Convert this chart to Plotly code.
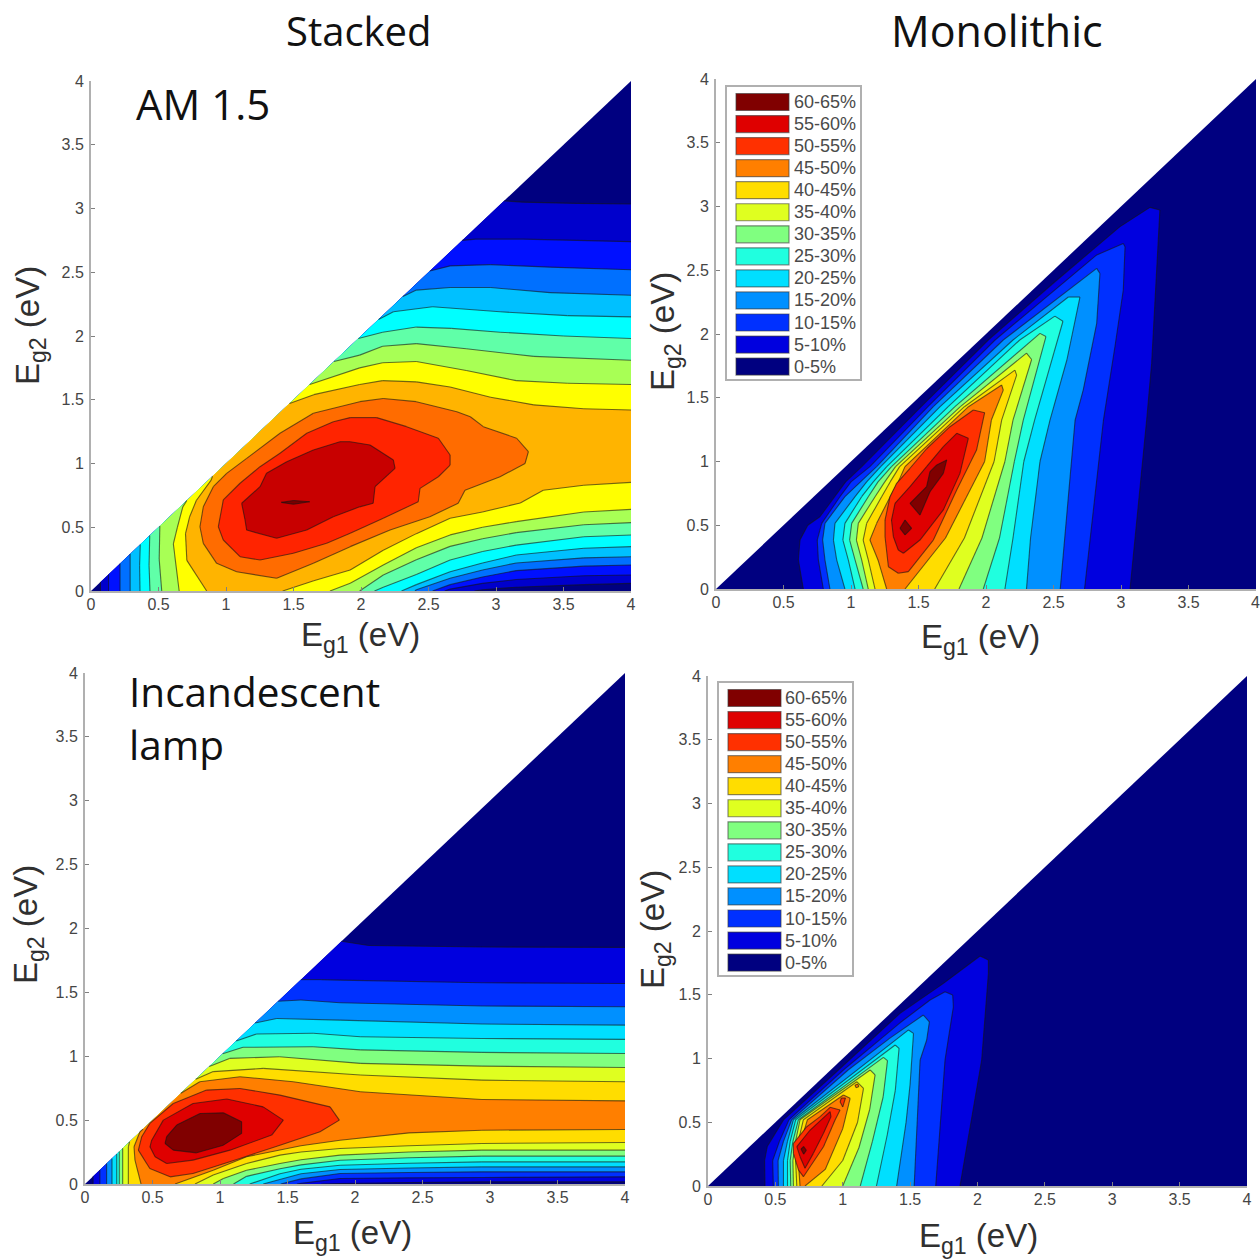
import plotly.graph_objects as go

W, H = 1260, 1259

LEVEL_LABELS = ["60-65%", "55-60%", "50-55%", "45-50%", "40-45%", "35-40%", "30-35%",
                "25-30%", "20-25%", "15-20%", "10-15%", "5-10%", "0-5%"]
LEGEND_COLORS = ["#800000", "#DF0000", "#FF3000", "#FF7F00", "#FFDD00", "#DFFF20", "#80FF80",
                 "#20FFDF", "#00DFFF", "#0090FF", "#0030FF", "#0000DF", "#000080"]
AM15_COLORS = ["#780000", "#C80000", "#FF2400", "#FF6C00", "#FFB400", "#FFFF00", "#A8FF55",
               "#60FFA8", "#00FFFF", "#00C0FF", "#0070FF", "#0010FF", "#0000CC", "#000080"]
TICKS = [0, 0.5, 1, 1.5, 2, 2.5, 3, 3.5, 4]
TICK_TEXT = ["0", "0.5", "1", "1.5", "2", "2.5", "3", "3.5", "4"]
TRIANGLE = [(0, 0), (4, 0), (4, 4)]

# Stacked, AM 1.5: contour regions in eV (Eg1, Eg2), lowest level first
A05 = [(.07,0),(.07,.07),(3.06,3.06),(3.2,3.05),(3.6,3.04),(4,3.035),(4,.06),(3.65,.05),(3.15,.03),(2.9,.01),(2.84,0)]
A10 = [(.13,0),(.13,.13),(2.75,2.75),(2.85,2.76),(3.2,2.76),(4,2.74),(4,.125),(3.65,.12),(3.15,.09),(2.9,.06),(2.66,.015),(2.62,0)]
A15 = [(.215,0),(.215,.215),(2.51,2.51),(2.66,2.55),(2.96,2.56),(3.4,2.54),(4,2.52),(4,.204),(3.65,.195),(3.15,.16),(2.9,.11),(2.66,.05),(2.53,0)]
A20 = [(.29,0),(.29,.29),(2.31,2.31),(2.41,2.36),(2.66,2.38),(2.96,2.38),(3.4,2.34),(4,2.32),(4,.269),(3.65,.26),(3.15,.22),(2.9,.165),(2.66,.10),(2.41,.01),(2.40,0)]
A25 = [(.363,0),(.36,.2),(.365,.365),(2.13,2.13),(2.24,2.19),(2.53,2.23),(3.03,2.19),(3.53,2.16),(4,2.15),(4,.348),(3.65,.335),(3.15,.282),(2.9,.22),(2.66,.151),(2.41,.05),(2.3,0)]
A30 = [(.437,0),(.43,.2),(.435,.435),(1.98,1.98),(2.16,2.03),(2.41,2.07),(2.67,2.06),(3.03,2.03),(3.5,2.0),(4,1.98),(4,.439),(3.65,.425),(3.15,.36),(2.9,.31),(2.66,.243),(2.41,.13),(2.165,.03),(2.1,0)]
A35 = [(.524,0),(.505,.25),(.51,.51),(1.8,1.8),(1.99,1.85),(2.16,1.92),(2.41,1.94),(2.78,1.9),(3.28,1.84),(4,1.81),(4,.536),(3.65,.52),(3.15,.458),(2.9,.41),(2.66,.35),(2.41,.245),(2.165,.125),(1.99,0)]
A40 = [(.653,0),(.61,.37),(.64,.5),(.68,.66),(.71,.71),(1.62,1.62),(1.99,1.75),(2.16,1.79),(2.41,1.8),(2.78,1.73),(3.15,1.65),(3.53,1.63),(4,1.62),(4,.64),(3.65,.62),(3.15,.544),(2.9,.50),(2.66,.44),(2.41,.34),(2.165,.204),(1.92,.06),(1.77,0)]
A45 = [(.857,0),(.71,.24),(.70,.45),(.73,.58),(.78,.71),(.89,.87),(.9,.9),(1.47,1.47),(1.65,1.54),(1.99,1.62),(2.16,1.65),(2.41,1.64),(2.66,1.6),(2.96,1.52),(3.28,1.46),(3.65,1.43),(4,1.42),(4,.852),(3.65,.83),(3.35,.79),(3.18,.69),(2.9,.62),(2.66,.57),(2.41,.45),(2.165,.32),(1.92,.165),(1.65,.08),(1.42,0)]
A50 = [(1.99,1.485),(2.165,1.51),(2.41,1.485),(2.71,1.406),(2.81,1.367),(2.906,1.289),(3.153,1.198),(3.24,1.093),(3.215,1.0),(3.03,.896),(2.77,.79),(2.72,.688),(2.51,.583),(2.215,.478),(1.92,.348),(1.647,.217),(1.375,.10),(1.079,.151),(.931,.217),(.832,.374),(.807,.504),(.832,.661),(.906,.818),(1.005,.923),(1.153,1.04),(1.40,1.237),(1.647,1.394)]
A55 = [(1.795,1.328),(1.92,1.36),(2.116,1.36),(2.338,1.289),(2.573,1.198),(2.66,1.067),(2.66,.988),(2.573,.896),(2.437,.805),(2.424,.70),(2.165,.57),(1.92,.453),(1.746,.374),(1.499,.296),(1.252,.243),(1.104,.269),(.98,.40),(.943,.504),(.98,.714),(1.104,.845),(1.252,.975),(1.40,1.08),(1.598,1.237)]
A60 = [(1.844,1.171),(1.92,1.171),(2.067,1.145),(2.24,1.027),(2.252,.962),(2.104,.818),(2.09,.688),(1.99,.66),(1.795,.583),(1.598,.478),(1.375,.413),(1.153,.478),(1.141,.557),(1.116,.688),(1.252,.818),(1.30,.923),(1.45,1.014),(1.647,1.106)]
A65 = [(1.41,.695),(1.5,.71),(1.62,.70),(1.5,.68)]
STACKED_AM15 = [A05, A10, A15, A20, A25, A30, A35, A40, A45, A50, A55, A60, A65]

# Monolithic, AM 1.5
B05 = [(.647,0),(.61,.228),(.622,.384),(.68,.5),(.77,.567),(.96,.84),(1.08,.96),(1.52,1.43),(2.017,1.953),(2.5,2.4),(2.99,2.84),(3.214,2.993),(3.288,2.972),(3.227,1.77),(3.19,1.325),(3.067,0)]
B10 = [(.795,0),(.758,.228),(.75,.384),(.783,.515),(.918,.724),(1.0,.84),(1.14,.96),(1.57,1.43),(2.067,1.953),(2.82,2.62),(3.017,2.71),(3.03,2.685),(3.017,2.345),(2.955,1.90),(2.87,1.325),(2.73,0)]
B15 = [(.844,0),(.807,.228),(.79,.384),(.807,.515),(.955,.724),(1.07,.84),(1.19,.96),(1.61,1.43),(2.128,1.953),(2.82,2.515),(2.844,2.475),(2.82,2.083),(2.72,1.56),(2.66,1.325),(2.55,0)]
B20 = [(.955,0),(.894,.228),(.87,.384),(.881,.515),(1.03,.724),(1.116,.84),(1.22,.96),(1.66,1.43),(2.2,1.953),(2.61,2.29),(2.696,2.29),(2.6,1.8),(2.474,1.325),(2.4,1.0),(2.33,.4),(2.3,0)]
B25 = [(1.03,0),(.98,.228),(.94,.384),(.955,.515),(1.079,.724),(1.165,.84),(1.265,.96),(1.72,1.43),(2.25,1.953),(2.51,2.14),(2.57,2.10),(2.36,1.325),(2.28,1.0),(2.2,.4),(2.14,0)]
B30 = [(1.09,0),(1.03,.228),(.99,.384),(1.005,.515),(1.128,.724),(1.2,.84),(1.30,.96),(1.77,1.43),(2.40,2.005),(2.444,1.98),(2.276,1.325),(2.21,1.0),(2.10,.4),(1.98,0)]
B35 = [(1.128,0),(1.079,.228),(1.04,.384),(1.054,.515),(1.178,.724),(1.25,.84),(1.33,.96),(1.81,1.43),(2.30,1.85),(2.338,1.80),(2.2,1.325),(2.14,1.0),(1.97,.4),(1.80,0)]
B40 = [(1.178,0),(1.128,.228),(1.09,.384),(1.116,.515),(1.227,.724),(1.29,.84),(1.36,.96),(1.84,1.43),(2.214,1.717),(2.227,1.678),(2.116,1.325),(2.06,1.0),(1.84,.4),(1.62,0)]
B45 = [(1.264,0),(1.2,.228),(1.14,.384),(1.19,.515),(1.29,.724),(1.35,.84),(1.40,.96),(1.87,1.43),(2.116,1.60),(2.128,1.56),(2.04,1.325),(1.99,1.0),(1.70,.4),(1.40,0)]
B50 = [(1.906,1.404),(1.99,1.383),(1.93,1.09),(1.783,.777),(1.61,.384),(1.425,.136),(1.35,.123),(1.277,.175),(1.252,.41),(1.252,.541),(1.289,.724),(1.338,.829),(1.437,.947),(1.56,1.10),(1.733,1.273)]
B55 = [(1.783,1.221),(1.869,1.182),(1.807,.907),(1.684,.62),(1.511,.384),(1.388,.28),(1.35,.306),(1.314,.41),(1.30,.541),(1.326,.672),(1.437,.803),(1.56,.96),(1.684,1.116)]
B60 = [(1.709,1.012),(1.684,.907),(1.585,.763),(1.511,.58),(1.437,.672),(1.56,.803),(1.585,.92),(1.635,.973)]
B60b = [(1.4,.541),(1.449,.476),(1.4,.424),(1.363,.476)]
MONO_AM15 = [B05, B10, B15, B20, B25, B30, B35, B40, B45, B50, B55, B60, B60b]

# Stacked, incandescent lamp
C05 = [(.06,0),(.06,.06),(1.9,1.9),(2.1,1.867),(2.94,1.855),(4,1.852),(4,.017),(2.94,.017),(2.4,.012),(1.889,.004),(1.75,0)]
C10 = [(.11,0),(.11,.11),(1.6,1.6),(1.75,1.6),(1.889,1.596),(2.94,1.575),(4,1.57),(4,.056),(2.94,.051),(2.4,.048),(1.889,.043),(1.6,.005),(1.57,0)]
C15 = [(.16,0),(.16,.16),(1.43,1.43),(1.6,1.44),(1.889,1.419),(2.94,1.393),(4,1.388),(4,.095),(2.94,.095),(2.4,.09),(1.889,.082),(1.6,.04),(1.45,0)]
C20 = [(.2,0),(.2,.2),(1.26,1.26),(1.42,1.296),(1.889,1.283),(2.94,1.252),(4,1.244),(4,.134),(2.94,.134),(2.4,.125),(1.889,.113),(1.6,.08),(1.32,0)]
C25 = [(.235,0),(.235,.235),(1.12,1.12),(1.27,1.174),(1.69,1.18),(2.04,1.153),(2.94,1.139),(4,1.132),(4,.173),(2.94,.173),(2.4,.163),(1.889,.147),(1.6,.115),(1.444,.08),(1.22,0)]
C30 = [(.254,0),(.254,.254),(1.02,1.02),(1.17,1.07),(1.69,1.074),(2.04,1.05),(2.94,1.03),(4,1.022),(4,.218),(2.94,.218),(2.4,.205),(1.889,.186),(1.6,.15),(1.444,.12),(1.197,.06),(1.10,0)]
C35 = [(.279,0),(.279,.279),(.92,.92),(1.07,.983),(1.44,.996),(2.04,.944),(2.94,.923),(4,.912),(4,.265),(2.94,.265),(2.4,.25),(1.889,.226),(1.6,.19),(1.444,.16),(1.197,.108),(1.025,.043),(.95,0)]
C40 = [(.321,0),(.321,.29),(.33,.33),(.82,.82),(.95,.88),(1.32,.905),(2.04,.853),(2.94,.813),(4,.80),(4,.325),(2.94,.317),(2.4,.30),(1.889,.278),(1.6,.25),(1.444,.226),(1.197,.16),(.95,.07),(.815,0)]
C45 = [(.415,0),(.37,.187),(.363,.291),(.407,.409),(.43,.43),(.71,.71),(.85,.80),(1.148,.84),(1.543,.80),(2.04,.722),(2.94,.662),(4,.651),(4,.427),(2.94,.421),(2.4,.40),(1.889,.343),(1.6,.30),(1.197,.213),(.95,.108),(.667,0)]
C50 = [(.42,.37),(.48,.474),(.654,.63),(.90,.735),(1.148,.748),(1.444,.696),(1.815,.604),(1.884,.50),(1.741,.409),(1.444,.304),(1.148,.20),(.80,.082),(.63,.056),(.48,.121),(.395,.265)]
C55 = [(.494,.343),(.58,.50),(.80,.63),(1.05,.665),(1.32,.604),(1.469,.50),(1.383,.383),(1.074,.265),(.80,.187),(.605,.161),(.519,.213),(.481,.291)]
C60 = [(.605,.37),(.679,.461),(.852,.552),(1.025,.557),(1.16,.487),(1.16,.396),(1.025,.304),(.827,.244),(.654,.265),(.593,.317)]
STACKED_LAMP = [C05, C10, C15, C20, C25, C30, C35, C40, C45, C50, C55, C60]

# Monolithic, incandescent lamp
D05 = [(.423,0),(.42,.2),(.44,.31),(.56,.518),(.968,.91),(1.425,1.354),(1.747,1.589),(2.019,1.804),(2.081,1.772),(2.081,1.668),(2.031,.988),(1.87,0)]
D10 = [(.485,0),(.48,.2),(.53,.35),(.60,.518),(1.005,.91),(1.425,1.28),(1.648,1.459),(1.759,1.524),(1.816,1.498),(1.821,1.406),(1.759,.988),(1.69,0)]
D15 = [(.522,0),(.52,.2),(.56,.35),(.62,.518),(1.04,.91),(1.35,1.16),(1.598,1.341),(1.643,1.288),(1.623,1.145),(1.574,.988),(1.53,0)]
D20 = [(.56,0),(.56,.2),(.59,.35),(.634,.52),(1.488,1.224),(1.525,1.197),(1.5,.8),(1.47,.5),(1.40,0)]
D25 = [(.59,0),(.59,.2),(.61,.35),(.651,.52),(1.389,1.106),(1.418,1.08),(1.39,.75),(1.33,.4),(1.25,0)]
D30 = [(.614,0),(.61,.2),(.63,.35),(.671,.52),(1.302,1.009),(1.332,.983),(1.30,.7),(1.22,.35),(1.13,0)]
D35 = [(.634,0),(.63,.2),(.65,.35),(.683,.52),(1.203,.91),(1.24,.871),(1.2,.6),(1.12,.3),(1.0,0)]
D40 = [(.659,0),(.65,.2),(.67,.35),(.708,.52),(1.104,.818),(1.154,.766),(1.11,.5),(1.0,.2),(.845,0)]
D45 = [(.683,0),(.67,.2),(.69,.35),(.738,.52),(1.005,.714),(1.055,.688),(1.0,.45),(.87,.13),(.72,0)]
D50 = [(.906,.617),(.98,.596),(.943,.518),(.857,.308),(.708,.073),(.671,.126),(.634,.256),(.634,.335),(.733,.465),(.832,.544)]
D55 = [(.906,.583),(.913,.544),(.857,.413),(.782,.256),(.72,.139),(.683,.23),(.659,.309),(.758,.439)]
D60 = [(.69,.29),(.71,.31),(.73,.28),(.71,.25)]
D50b = [(.99,.69),(1.02,.69),(1.0,.62),(.98,.66)]
D45b = [(1.09,.79),(1.11,.80),(1.12,.78),(1.10,.77)]
MONO_LAMP = [D05, D10, D15, D20, D25, D30, D35, D40, D45, D50, D55, D60, D50b, D45b]

PANELS = [
    dict(box=(91, 631, 81, 591), regions=STACKED_AM15, colors=AM15_COLORS[::-1], order=list(range(1, 14))),
    dict(box=(716, 1256, 79, 589), regions=MONO_AM15, colors=LEGEND_COLORS, order=[11, 10, 9, 8, 7, 6, 5, 4, 3, 2, 1, 0, 0]),
    dict(box=(85, 625, 673, 1184), regions=STACKED_LAMP, colors=LEGEND_COLORS, order=[11, 10, 9, 8, 7, 6, 5, 4, 3, 2, 1, 0]),
    dict(box=(708, 1247, 676, 1186), regions=MONO_LAMP, colors=LEGEND_COLORS, order=[11, 10, 9, 8, 7, 6, 5, 4, 3, 2, 1, 0, 2, 3]),
]
BASE_COLORS = [AM15_COLORS[-1], LEGEND_COLORS[-1], LEGEND_COLORS[-1], LEGEND_COLORS[-1]]


def on_edge(p, q):
    e = 0.0015
    return (abs(p[0] - p[1]) < e and abs(q[0] - q[1]) < e) or (p[0] == 4 and q[0] == 4) or (p[1] == 0 and q[1] == 0)


fig = go.Figure()
layout = dict(width=W, height=H, margin=dict(l=0, r=0, t=0, b=0, autoexpand=False), autosize=False,
              paper_bgcolor="white", plot_bgcolor="white", showlegend=False)
AX = dict(range=[0, 4], tickvals=TICKS, ticktext=TICK_TEXT, ticks="inside", ticklen=4, tickwidth=1,
          tickcolor="#808080", showgrid=False, zeroline=False, showline=True, linecolor="#b0b0b0",
          linewidth=2, tickfont=dict(family="Liberation Sans", size=16, color="#454545"), fixedrange=True)

for i, p in enumerate(PANELS):
    n = "" if i == 0 else str(i + 1)
    l, r, t, b = p["box"]
    layout[f"xaxis{n}"] = dict(AX, domain=[l / W, r / W], anchor=f"y{n}", ticklabelstandoff=-2)
    layout[f"yaxis{n}"] = dict(AX, domain=[1 - b / H, 1 - t / H], anchor=f"x{n}", ticklabelstandoff=2)
    fig.add_trace(go.Scatter(x=[q[0] for q in TRIANGLE], y=[q[1] for q in TRIANGLE], mode="none", fill="toself",
                             fillcolor=BASE_COLORS[i], xaxis=f"x{n}", yaxis=f"y{n}", hoverinfo="skip"))
    for reg, lev in zip(p["regions"], p["order"]):
        fig.add_trace(go.Scatter(x=[q[0] for q in reg], y=[q[1] for q in reg], mode="none", fill="toself",
                                 fillcolor=p["colors"][lev], xaxis=f"x{n}", yaxis=f"y{n}", hoverinfo="skip"))
        lx, ly = [], []
        pts = reg + [reg[0]]
        for a, c in zip(pts[:-1], pts[1:]):
            if not on_edge(a, c):
                lx += [a[0], c[0], None]
                ly += [a[1], c[1], None]
        fig.add_trace(go.Scatter(x=lx, y=ly, mode="lines", line=dict(color="rgba(20,20,20,0.6)", width=1.1),
                                 xaxis=f"x{n}", yaxis=f"y{n}", hoverinfo="skip"))

annotations, shapes = [], []


def label(text, px, py, size, family="Open Sans", anchor="center", angle=0, color="#111111"):
    annotations.append(dict(text=text, x=px / W, y=1 - py / H, xref="paper", yref="paper", showarrow=False,
                            xanchor=anchor, yanchor="middle", textangle=angle,
                            font=dict(family=family, size=size, color=color)))


label("Stacked", 359, 30, 40)
label("Monolithic", 997, 30, 43)
label("AM 1.5", 134, 104, 42, anchor="left")
label("Incandescent", 127, 691, 40.5, anchor="left")
label("lamp", 127, 744, 40.5, anchor="left")
XL = "E<sub>g1</sub> (eV)"
YL = "E<sub>g2</sub> (eV)"
for tx, px, py, ang in [(XL, 360, 637, 0), (YL, 30, 326, -90), (XL, 980, 639, 0), (YL, 665, 332, -90),
                        (XL, 352, 1235, 0), (YL, 28, 925, -90), (XL, 978, 1238, 0), (YL, 655, 930, -90)]:
    label(tx, px, py, 33, family="Liberation Sans", angle=ang, color="#303030")
label(TICK_TEXT[-1], 1255, 602, 16, family="Liberation Sans", color="#454545")

for fx, fy, sx, tx_px in [(726, 86, 736, 792), (718, 682, 728, 783)]:
    shapes.append(dict(type="rect", xref="paper", yref="paper", x0=fx / W, x1=(fx + 135) / W,
                       y0=1 - (fy + 294) / H, y1=1 - fy / H, fillcolor="white",
                       line=dict(color="#b0b0b0", width=2)))
    for k, (name, col) in enumerate(zip(LEVEL_LABELS, LEGEND_COLORS)):
        cy = fy + 16 + k * 22.05
        shapes.append(dict(type="rect", xref="paper", yref="paper", x0=sx / W, x1=(sx + 53) / W,
                           y0=1 - (cy + 8.5) / H, y1=1 - (cy - 8.5) / H, fillcolor=col,
                           line=dict(color="rgba(60,60,60,0.6)", width=1.2)))
        label(name, tx_px, cy, 18, family="Liberation Sans", anchor="left", color="#4a4a4a")

layout["annotations"] = annotations
layout["shapes"] = shapes
fig.update_layout(**layout)
fig.write_html("out.html", config=dict(displayModeBar=False),
               post_script="document.body.style.margin='0';document.body.style.overflow='hidden';")
